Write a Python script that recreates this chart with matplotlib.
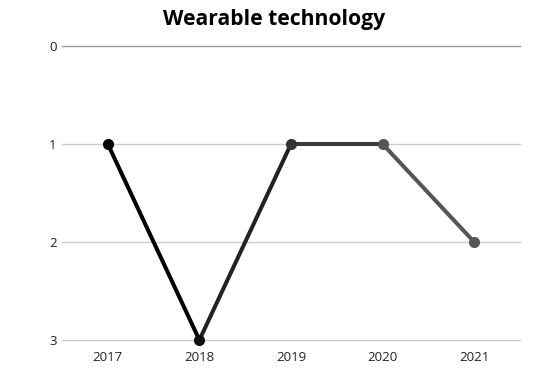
import matplotlib
matplotlib.use("Agg")
import matplotlib.pyplot as plt

years = ["2017", "2018", "2019", "2020", "2021"]
values = [1, 3, 1, 1, 2]
point_colors = ["#000000", "#111111", "#333333", "#555555", "#555555"]
segment_colors = ["#000000", "#222222", "#3a3a3a", "#555555"]
yticks = [0, 1, 2, 3]

plt.rcParams["font.family"] = ["Open Sans", "DejaVu Sans"]

fig = plt.figure(figsize=(5.49, 3.82), dpi=100)
ax = fig.add_axes([62/549, 1-340/382, (520-62)/549, (340-46)/382])

x = list(range(len(years)))
for i in range(len(x)-1):
    ax.plot(x[i:i+2], values[i:i+2], color=segment_colors[i], lw=2.9,
            solid_capstyle="round", zorder=3, clip_on=False)
for i in range(len(x)):
    ax.plot(x[i], values[i], "o", color=point_colors[i], ms=7, zorder=4,
            clip_on=False)

ax.set_xlim(-0.5, 4.5)
ax.set_ylim(3, 0)
ax.set_yticks(yticks)
ax.set_yticklabels([str(t) for t in yticks])
ax.set_xticks(x)
ax.set_xticklabels(years)
for t in yticks:
    ax.axhline(t, color="#999999" if t == 0 else "#cccccc", lw=1, zorder=1,
               clip_on=False)
for s in ax.spines.values():
    s.set_visible(False)
ax.tick_params(length=0, labelsize=9.5, colors="#222222")
ax.tick_params(axis="y", pad=4)
ax.tick_params(axis="x", pad=8)
fig.text(274/549, 1-20/382, "Wearable technology", fontsize=15.2,
         fontweight="bold", ha="center", va="center")

fig.savefig("out.png", dpi=100, facecolor="white")
